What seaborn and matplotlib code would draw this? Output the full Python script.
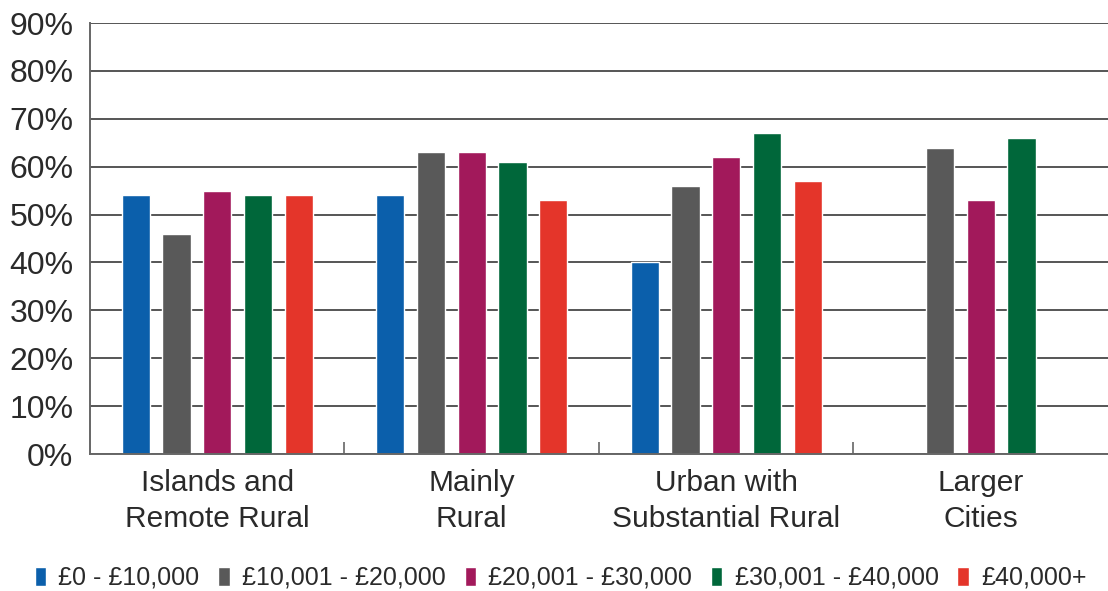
import numpy as np
import pandas as pd
import matplotlib
matplotlib.use("Agg")
import matplotlib.pyplot as plt
import seaborn as sns

# Area types (x categories) and income bands (hue)
areas = ["Islands and\nRemote Rural", "Mainly\nRural",
         "Urban with\nSubstantial Rural", "Larger\nCities"]
bands = ["£0 - £10,000", "£10,001 - £20,000", "£20,001 - £30,000",
         "£30,001 - £40,000", "£40,000+"]

# Share of households per income band, by area type (%)
band_0_10k = [54, 54, 40, np.nan]
band_10_20k = [46, 63, 56, 64]
band_20_30k = [55, 63, 62, 53]
band_30_40k = [54, 61, 67, 66]
band_40k_plus = [54, 53, 57, np.nan]

colors = ["#0b5fab", "#595959", "#a2195b", "#00673a", "#e4352a"]
y_ticks = list(range(0, 91, 10))

series = [band_0_10k, band_10_20k, band_20_30k, band_30_40k, band_40k_plus]
rows = []
for band, vals in zip(bands, series):
    for area, v in zip(areas, vals):
        rows.append({"area": area, "band": band, "value": v})
df = pd.DataFrame(rows)

sns.set_theme(style="white")
plt.rcParams["font.family"] = ["Liberation Sans", "DejaVu Sans"]

fig = plt.figure(figsize=(11.08, 5.91), dpi=100)
ax = fig.add_axes([0.0812, 0.2318, 0.9188, 0.7292])

sns.barplot(data=df, x="area", y="value", hue="band", order=areas,
            hue_order=bands, palette=colors, width=0.8, gap=0.31,
            saturation=1, errorbar=None, ax=ax, legend=True)

ax.set_ylim(0, 90)
ax.set_xlim(-0.5, len(areas) - 0.5)
ax.set_yticks(y_ticks)
ax.set_yticklabels([f"{t}%" for t in y_ticks], fontsize=23, color="#2a2a2a")
ax.yaxis.grid(True, color="#555555", linewidth=1.4)
ax.set_axisbelow(True)

ax.set_xlabel("")
ax.set_ylabel("")
ax.tick_params(axis="x", which="major", length=0, labelsize=21.5,
               labelcolor="#2a2a2a", pad=11)
for lbl in ax.get_xticklabels():
    lbl.set_linespacing(1.34)
ax.tick_params(axis="y", length=0, pad=12)
ax.set_xticks(np.arange(0.5, len(areas) - 1, 1.0), minor=True)
ax.tick_params(axis="x", which="minor", bottom=True, direction="in",
               length=9, width=1.2, color="#666666")

for side in ["top", "right"]:
    ax.spines[side].set_visible(False)
for side in ["left", "bottom"]:
    ax.spines[side].set_color("#666666")
    ax.spines[side].set_linewidth(1.4)

handles, labels = ax.get_legend_handles_labels()
ax.get_legend().remove()
fig.legend(handles, labels, loc="center", bbox_to_anchor=(0.506, 0.022),
           ncol=5, frameon=False, fontsize=18, handlelength=0.45,
           handleheight=0.8, handletextpad=0.5, columnspacing=0.75,
           labelcolor="#2a2a2a")

fig.savefig("out.png", dpi=100, facecolor="white")
